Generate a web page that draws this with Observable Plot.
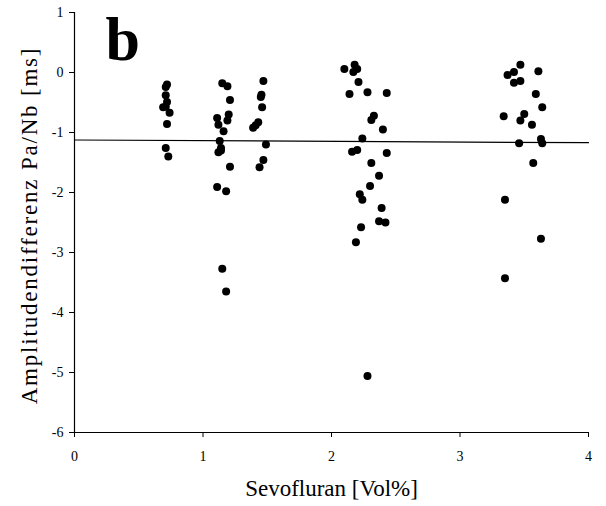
<!DOCTYPE html>
<html>
<head>
<meta charset="utf-8">
<script src="https://cdn.jsdelivr.net/npm/d3@7"></script>
<script src="https://cdn.jsdelivr.net/npm/@observablehq/plot@0.6"></script>
<style>
  html, body { margin: 0; padding: 0; background: #fff; }
  #chart svg { display: block; }
  #chart svg text { font-family: "Liberation Serif", "DejaVu Serif", serif; }
</style>
</head>
<body>
<div id="chart"></div>
<script>
// Sevofluran concentration [Vol%]
const sevo = [
  0.72, 0.71, 0.71, 0.72, 0.69, 0.71, 0.74, 0.72, 0.71, 0.73,
  1.15, 1.19, 1.21, 1.20, 1.19, 1.11, 1.12, 1.16, 1.13, 1.14, 1.12, 1.14, 1.21, 1.11, 1.18, 1.15, 1.18,
  1.47, 1.455, 1.45, 1.46, 1.43, 1.41, 1.39, 1.49, 1.47, 1.44,
  2.18, 2.10, 2.17, 2.20, 2.21, 2.14, 2.28, 2.43, 2.33, 2.31, 2.40, 2.24, 2.20, 2.16, 2.43, 2.31, 2.37, 2.30, 2.22, 2.24, 2.39, 2.37, 2.42, 2.23, 2.19, 2.28,
  3.47, 3.42, 3.37, 3.61, 3.47, 3.42, 3.59, 3.64, 3.34, 3.50, 3.47, 3.56, 3.46, 3.63, 3.64, 3.57, 3.35, 3.63, 3.35
];
// Amplitude difference Pa/Nb [ms]
const ampDiff = [
  -0.20, -0.24, -0.38, -0.49, -0.58, -0.57, -0.67, -0.86, -1.26, -1.40,
  -0.18, -0.23, -0.46, -0.70, -0.80, -0.76, -0.87, -0.98, -1.14, -1.26, -1.33, -1.30, -1.57, -1.91, -1.98, -3.27, -3.65,
  -0.14, -0.37, -0.41, -0.58, -0.83, -0.88, -0.92, -1.20, -1.46, -1.58,
  0.13, 0.06, 0.01, 0.06, -0.16, -0.36, -0.33, -0.34, -0.72, -0.79, -0.95, -1.10, -1.29, -1.32, -1.34, -1.51, -1.72, -1.89, -2.03, -2.12, -2.26, -2.48, -2.50, -2.58, -2.83, -5.06,
  0.13, 0.01, -0.04, 0.02, -0.14, -0.17, -0.36, -0.58, -0.73, -0.69, -0.80, -0.87, -1.18, -1.11, -1.18, -1.51, -2.12, -2.77, -3.43
];
// Regression line end points
const regX = [0, 4];
const regY = [-1.125, -1.17];

const xTicks = [0, 1, 2, 3, 4];
const yTicks = [-6, -5, -4, -3, -2, -1, 0, 1];

const xLabel = "Sevofluran [Vol%]";
const yLabel = "Amplitudendifferenz Pa/Nb [ms]";
const panelLabel = "b";

const points = sevo.map((x, i) => ({x, y: ampDiff[i]}));
const reg = regX.map((x, i) => ({x, y: regY[i]}));

const serif = "'Liberation Serif', 'DejaVu Serif', serif";

const chart = Plot.plot({
  width: 606,
  height: 506,
  marginLeft: 74,
  marginRight: 18,
  marginTop: 12,
  marginBottom: 74,
  style: {fontFamily: serif, color: "#000", background: "#fff"},
  x: {domain: [0, 4]},
  y: {domain: [-6, 1]},
  marks: [
    Plot.axisX({ticks: xTicks, tickFormat: d => String(d), tickSize: 5, tickPadding: 14, fontSize: 14, fontFamily: serif, label: null, stroke: "#000", fill: "#000"}),
    Plot.axisY({ticks: yTicks, tickFormat: d => String(d), tickSize: 5, tickPadding: 6, fontSize: 14, fontFamily: serif, label: null, stroke: "#000", fill: "#000"}),
    Plot.ruleY([-6], {stroke: "#000", strokeWidth: 1.2}),
    Plot.ruleX([0], {stroke: "#000", strokeWidth: 1.2}),
    Plot.line(reg, {x: "x", y: "y", stroke: "#000", strokeWidth: 1.2}),
    Plot.dot(points, {x: "x", y: "y", r: 4, fill: "#000", stroke: "none"}),
    Plot.text([xLabel], {frameAnchor: "bottom", lineAnchor: "middle", dy: 56, fontSize: 23, fontFamily: serif, fill: "#000"}),
    Plot.text([yLabel], {frameAnchor: "left", lineAnchor: "middle", textAnchor: "middle", dx: -45, dy: 3, rotate: -90, fontSize: 23, fontFamily: serif, fill: "#000", className: "ylab"}),
    Plot.text([panelLabel], {frameAnchor: "top-left", lineAnchor: "top", textAnchor: "start", dx: 31, dy: 3, fontSize: 62, fontWeight: "bold", fontFamily: serif, fill: "#000"})
  ]
});
d3.select(chart).selectAll(".ylab text").style("letter-spacing", "1.8px");
document.getElementById("chart").appendChild(chart);
</script>
</body>
</html>
